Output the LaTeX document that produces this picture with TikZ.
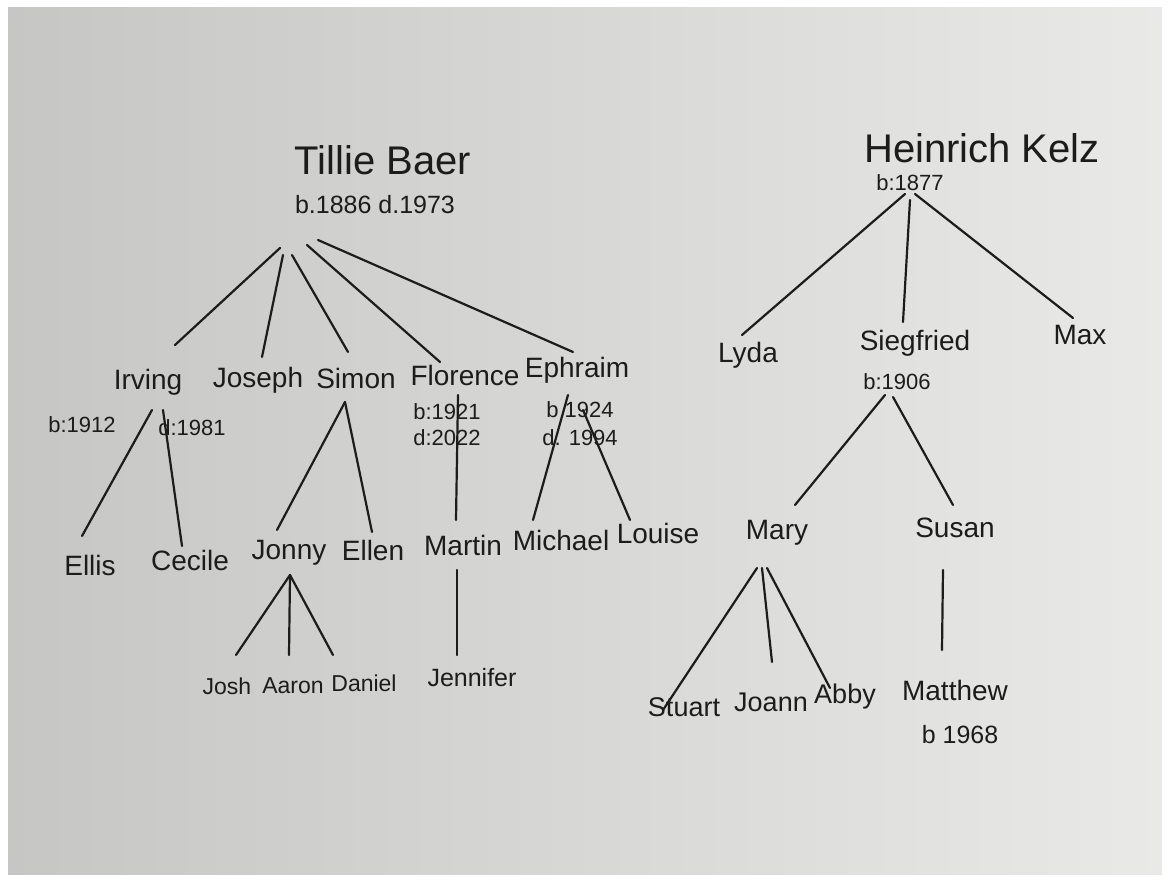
\documentclass[tikz,border=0pt]{standalone}
\usepackage{fontspec}
\setmainfont{Liberation Sans}
\usepackage{xcolor}
\usetikzlibrary{positioning}
\definecolor{ink}{HTML}{1C1C1C}
\definecolor{paperlight}{HTML}{E9E9E7}
\definecolor{paperdark}{HTML}{C6C6C5}
\tikzset{
  elder/.style={font=\fontsize{40}{42}\selectfont,text=ink},
  kid/.style={font=\fontsize{28}{30}\selectfont,text=ink},
  smallkid/.style={font=\fontsize{23}{25}\selectfont,text=ink},
  dates/.style={font=\fontsize{22}{24}\selectfont,text=ink},
  branch/.style={draw=ink,line width=2.2pt,line cap=round}
}
\begin{document}
\begin{tikzpicture}[x=1pt,y=-1pt,inner sep=0pt]
%%The photo and its white frame
\useasboundingbox (0,0) rectangle (1170,882);
\fill[white] (0,0) rectangle (1170,882);
\shade[left color=paperdark,right color=paperlight] (8,8) rectangle (1162,874);
%%First place the nodes
\node[elder] (tillie) at (383,160) {Tillie Baer};
\node[dates,font=\fontsize{25}{27}\selectfont] (tillie-d) at (375,205) {b.1886 d.1973};
\node[elder] (heinrich) at (982,148) {Heinrich Kelz};
\node[dates] (heinrich-d) at (910,183) {b:1877};
\node[kid] (irving) at (148,382) {Irving};
\node[kid] (joseph) at (258,380) {Joseph};
\node[kid] (simon) at (356,378) {Simon};
\node[kid] (florence) at (465,375) {Florence};
\node[kid] (ephraim) at (577,370) {Ephraim};
\node[kid] (lyda) at (748,355) {Lyda};
\node[kid] (siegfried) at (915,343) {Siegfried};
\node[kid] (max) at (1080,335) {Max};
\node[dates] (irving-b) at (82,425) {b:1912};
\node[dates] (irving-d) at (192,428) {d:1981};
\node[dates] (florence-b) at (447,412) {b:1921};
\node[dates] (florence-d) at (447,438) {d:2022};
\node[dates] (ephraim-b) at (580,410) {b 1924};
\node[dates] (ephraim-d) at (580,438) {d. 1994};
\node[dates] (siegfried-b) at (897,382) {b:1906};
\node[kid] (ellis) at (90,565) {Ellis};
\node[kid] (cecile) at (190,560) {Cecile};
\node[kid] (jonny) at (289,553) {Jonny};
\node[kid] (ellen) at (373,550) {Ellen};
\node[kid] (martin) at (463,545) {Martin};
\node[kid] (michael) at (561,540) {Michael};
\node[kid] (louise) at (658,533) {Louise};
\node[kid] (mary) at (777,533) {Mary};
\node[kid] (susan) at (955,528) {Susan};
\node[smallkid] (josh) at (227,686) {Josh};
\node[smallkid] (aaron) at (293,686) {Aaron};
\node[smallkid] (daniel) at (364,683) {Daniel};
\node[smallkid,font=\fontsize{25}{27}\selectfont] (jennifer) at (472,678) {Jennifer};
\node[kid,font=\fontsize{27}{29}\selectfont] (stuart) at (684,707) {Stuart};
\node[kid,font=\fontsize{27}{29}\selectfont] (joann) at (771,702) {Joann};
\node[kid,font=\fontsize{27}{29}\selectfont] (abby) at (845,697) {Abby};
\node[kid] (matthew) at (955,690) {Matthew};
\node[dates,font=\fontsize{25}{27}\selectfont] (matthew-b) at (960,735) {b 1968};
%%The ends of the branches
\coordinate (t-a) at (280,248);
\coordinate (t-b) at (283,255);
\coordinate (t-c) at (292,255);
\coordinate (t-d) at (307,245);
\coordinate (t-e) at (318,240);
\coordinate (h-a) at (905,194);
\coordinate (h-b) at (910,200);
\coordinate (h-c) at (915,194);
\coordinate (irving-a) at (175,345);
\coordinate (joseph-a) at (262,357);
\coordinate (simon-a) at (348,352);
\coordinate (florence-a) at (440,362);
\coordinate (ephraim-a) at (573,352);
\coordinate (lyda-a) at (742,335);
\coordinate (siegfried-a) at (903,322);
\coordinate (max-a) at (1073,318);
\coordinate (i-a) at (152,410);
\coordinate (i-b) at (163,410);
\coordinate (s-a) at (345,402);
\coordinate (f-a) at (458,395);
\coordinate (e-a) at (568,395);
\coordinate (e-b) at (583,410);
\coordinate (sg-a) at (885,395);
\coordinate (sg-b) at (893,397);
\coordinate (ellis-a) at (82,536);
\coordinate (cecile-a) at (182,546);
\coordinate (jonny-a) at (277,530);
\coordinate (ellen-a) at (372,532);
\coordinate (martin-a) at (456,520);
\coordinate (michael-a) at (533,520);
\coordinate (louise-a) at (630,520);
\coordinate (mary-a) at (795,505);
\coordinate (susan-a) at (953,505);
\coordinate (j-a) at (290,575);
\coordinate (m-a) at (457,570);
\coordinate (my-a) at (757,568);
\coordinate (my-b) at (762,568);
\coordinate (my-c) at (767,568);
\coordinate (su-a) at (943,570);
\coordinate (josh-a) at (236,655);
\coordinate (aaron-a) at (289,655);
\coordinate (daniel-a) at (333,655);
\coordinate (jennifer-a) at (457,655);
\coordinate (stuart-a) at (663,710);
\coordinate (joann-a) at (772,662);
\coordinate (abby-a) at (830,688);
\coordinate (matthew-a) at (942,650);
%%Draw the branches
\draw[branch]
(t-a) edge (irving-a)
(t-b) edge (joseph-a)
(t-c) edge (simon-a)
(t-d) edge (florence-a)
(t-e) edge (ephraim-a)
(h-a) edge (lyda-a)
(h-b) edge (siegfried-a)
(h-c) edge (max-a)
(i-a) edge (ellis-a)
(i-b) edge (cecile-a)
(s-a) edge (jonny-a)
(s-a) edge (ellen-a)
(f-a) edge (martin-a)
(e-a) edge (michael-a)
(e-b) edge (louise-a)
(sg-a) edge (mary-a)
(sg-b) edge (susan-a)
(j-a) edge (josh-a)
(j-a) edge (aaron-a)
(j-a) edge (daniel-a)
(m-a) edge (jennifer-a)
(my-a) edge (stuart-a)
(my-b) edge (joann-a)
(my-c) edge (abby-a)
(su-a) edge (matthew-a);
\end{tikzpicture}
\end{document}
